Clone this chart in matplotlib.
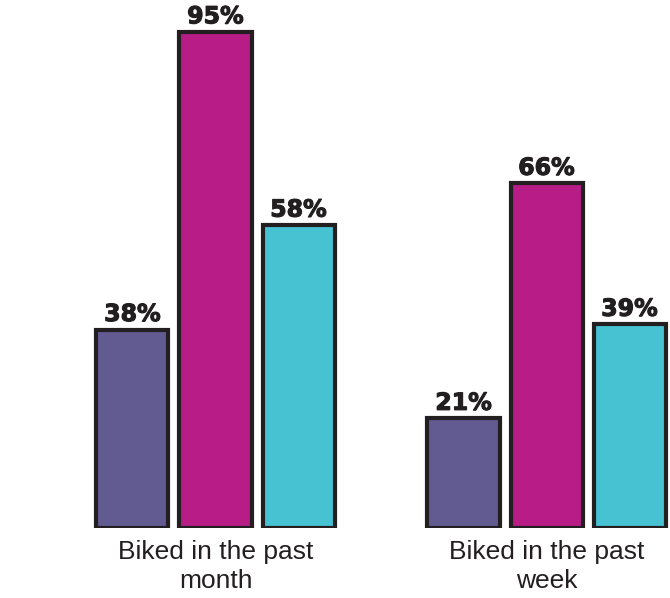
import numpy as np
import matplotlib.pyplot as plt
import matplotlib.patheffects as pe

groups = ["Biked in the past\nmonth", "Biked in the past\nweek"]
series_a = [38, 21]
series_b = [95, 66]
series_c = [58, 39]

colors = ["#625b92", "#b81c87", "#47c2d3"]
edge = "#231f20"

fig = plt.figure(figsize=(6.7, 5.98), dpi=100)
ax = fig.add_axes([0, 70 / 598, 1, 528 / 598])

x = np.arange(len(groups))
pitch = 0.2508
width = 0.2266 - 0.009

for i, (vals, col) in enumerate(zip([series_a, series_b, series_c], colors)):
    pos = x + (i - 1) * pitch
    bars = ax.bar(pos, vals, width, color=col, edgecolor=edge, linewidth=3)
    for b, v in zip(bars, vals):
        ax.annotate(f"{v}%", (b.get_x() + b.get_width() / 2, v),
                    xytext=(0, 2.5), textcoords="offset points",
                    ha="center", va="bottom", fontsize=17,
                    fontweight="bold", color=edge, family="DejaVu Sans",
                    path_effects=[pe.withStroke(linewidth=0.8, foreground=edge)])

ax.set_xlim(-0.651, 1.373)
ax.set_ylim(0, 101.1)
ax.set_xticks(x)
ax.set_xticklabels(groups, fontsize=19, family="Liberation Sans",
                   color=edge, linespacing=1.22)
ax.tick_params(axis="x", length=0, pad=9)
ax.set_yticks([])
for s in ax.spines.values():
    s.set_visible(False)

fig.savefig("out.png", dpi=100)
